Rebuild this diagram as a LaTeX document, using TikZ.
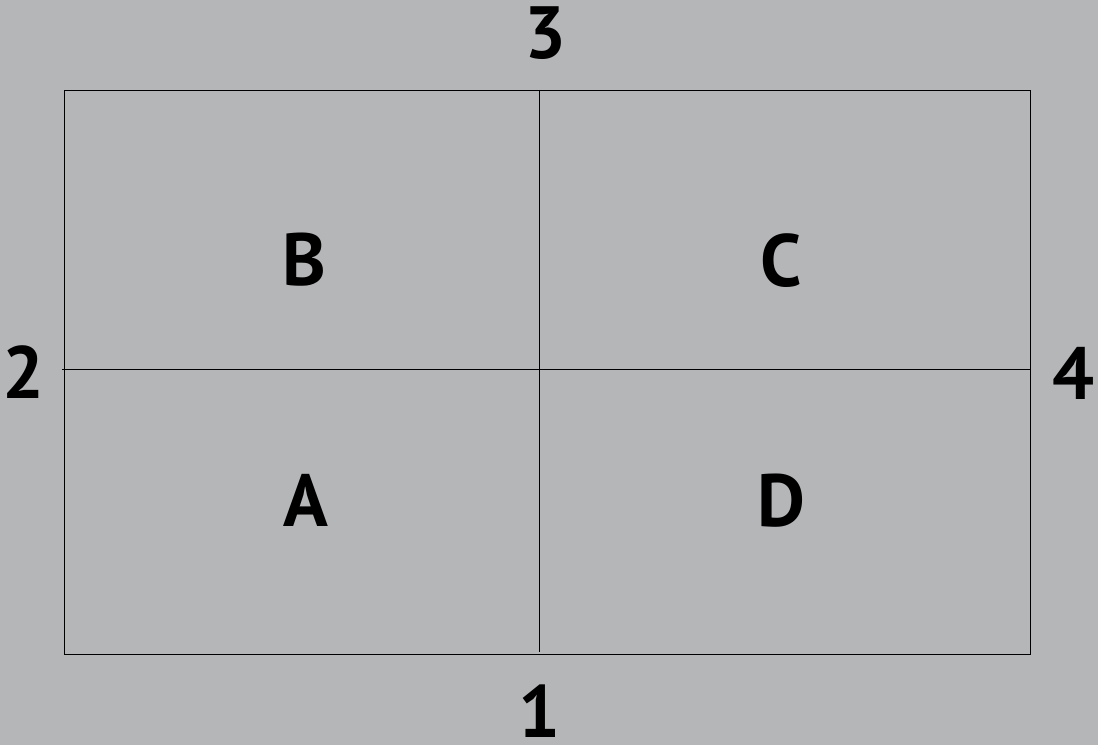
\documentclass[tikz,border=0pt]{standalone}
\usepackage{fontspec}
\setmainfont{PT Sans}
\definecolor{bgc}{HTML}{B5B6B8}
\begin{document}
\begin{tikzpicture}[x=1pt,y=-1pt,
  lab/.style={font=\fontsize{74}{80}\selectfont\bfseries, inner sep=0pt, text depth=0pt, anchor=base},
  grid/.style={draw=black, line width=0.9pt}]
\fill[bgc] (0,0) rectangle (1098,745);
\useasboundingbox (0,0) rectangle (1098,745);
\coordinate (tl) at (64,90);
\coordinate (br) at (1030,654);
\coordinate (vt) at (539,90);
\coordinate (vb) at (539,652);
\coordinate (hl) at (62,369);
\coordinate (hr) at (1030,369);
\draw[grid] (tl) rectangle (br);
\draw[grid] (vt) -- (vb);
\draw[grid] (hl) -- (hr);
\node[lab] (B) at (304,285) {B};
\node[lab] (C) at (781,286) {C};
\node[lab] (A) at (306,526) {A};
\node[lab] (D) at (781,526) {D};
\node[lab] (n3) at (545,58) {3};
\node[lab] (n2) at (23,398) {2};
\node[lab] (n4) at (1073,399) {4};
\node[lab] (n1) at (539,737) {1};
\end{tikzpicture}
\end{document}
